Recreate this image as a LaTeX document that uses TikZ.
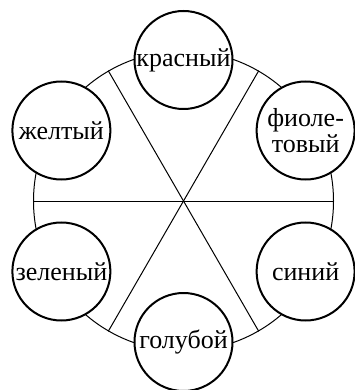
\documentclass[tikz,border=0pt]{standalone}
\usepackage{fontspec}
\setmainfont{Liberation Serif}

\begin{document}
\begin{tikzpicture}[
    x=0.5pt, y=0.5pt,
    font=\fontsize{13}{13}\selectfont,
    rim/.style={line width=0.5pt},
    ring/.style={circle, draw, rim, minimum size=150pt, inner sep=0pt},
    bead/.style={circle, draw, line width=1pt, fill=white,
        minimum size=49pt, inner sep=0pt},
    word/.style={align=center, inner sep=0pt},
]

\useasboundingbox (-183.5,-189) rectangle (170.5,201);

% el aro grande con sus tres diametros
\node[ring] (aro) at (0,0) {};
\draw[rim] (aro.0) -- (aro.180);
\draw[rim] (aro.60) -- (aro.240);
\draw[rim] (aro.120) -- (aro.300);

% los seis colores alrededor del aro
\foreach \ang/\txt [count=\i] in {%
    90/{красный},
    30/{фиоле-\\товый},
    -30/{синий},
    -90/{голубой},
    -150/{зеленый},
    150/{желтый}%
}{
    \node[bead] (c\i) at (\ang:141) {};
    \node[word] (t\i) at (c\i) {\txt};
}

\end{tikzpicture}
\end{document}
